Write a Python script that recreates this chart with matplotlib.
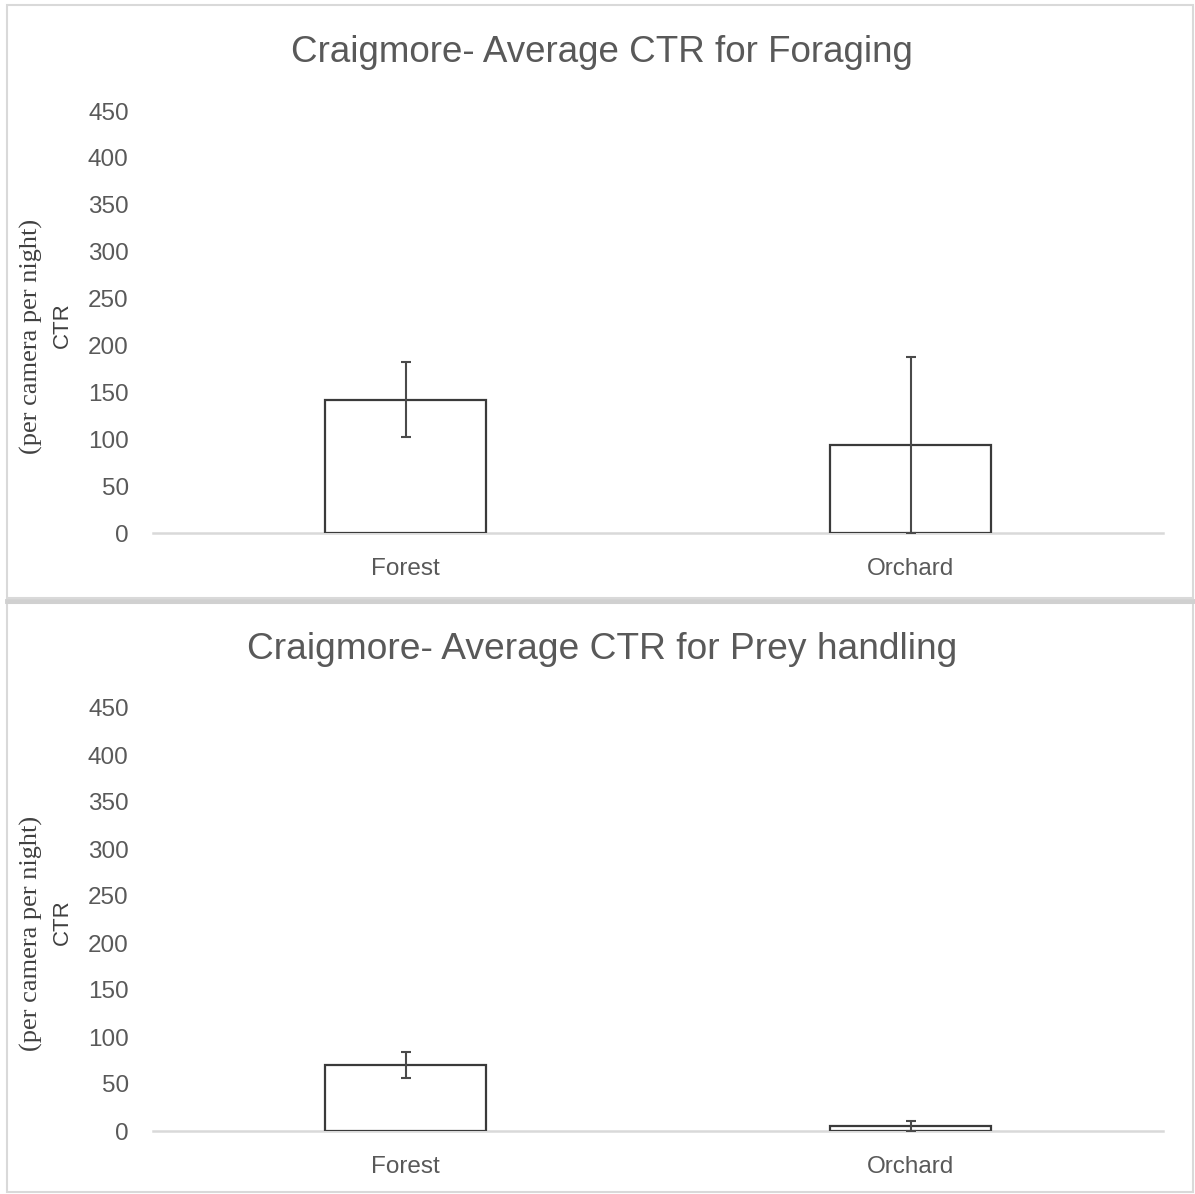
import matplotlib
matplotlib.use("Agg")
import matplotlib.pyplot as plt
from matplotlib.patches import Rectangle
from matplotlib.lines import Line2D

categories = ["Forest", "Orchard"]
foraging_values = [142, 94]
foraging_errors = [40, 94]
prey_values = [70, 5]
prey_errors = [14, 6]
titles = ["Craigmore- Average CTR for Foraging", "Craigmore- Average CTR for Prey handling"]
y_ticks = [0, 50, 100, 150, 200, 250, 300, 350, 400, 450]

W, H = 1195, 1194
fig = plt.figure(figsize=(W / 100, H / 100), dpi=100)
fig.patch.set_facecolor("white")

def fx(px):
    return px / W

def fy(py):
    return 1 - py / H

GRAY_TXT = "#595959"
BORDER = "#d9d9d9"

# panel borders
for (top, bot) in [(5, 598), (603, 1192)]:
    fig.patches.append(Rectangle((fx(7), fy(bot)), fx(1193) - fx(7), fy(top) - fy(bot),
                                 transform=fig.transFigure, fill=False,
                                 edgecolor=BORDER, linewidth=1.5))
fig.lines.append(Line2D([fx(7), fx(1193)], [fy(600.5), fy(600.5)], transform=fig.transFigure,
                        color="#d0d0d0", linewidth=3.5))

panels = [
    dict(vals=foraging_values, errs=foraging_errors, title=titles[0], ytop=111, ybot=533, ty=52,
         lbl_c=336, ctr_c=325, tsize=26.5),
    dict(vals=prey_values, errs=prey_errors, title=titles[1], ytop=708, ybot=1131, ty=650,
         lbl_c=933, ctr_c=922, tsize=26.7),
]

for p in panels:
    ax = fig.add_axes([fx(153), fy(p["ybot"]), fx(1163) - fx(153), (p["ybot"] - p["ytop"]) / H])
    x = list(range(len(categories)))
    ax.bar(x, p["vals"], width=0.317, color="white", edgecolor="#3a3a3a", linewidth=1.6, zorder=2)
    lower = [min(e, v) for v, e in zip(p["vals"], p["errs"])]
    ax.errorbar(x, p["vals"], yerr=[lower, p["errs"]], fmt="none", ecolor="#4a4a4a",
                elinewidth=1.5, capsize=3.6, capthick=1.5, zorder=3)
    ax.set_xlim(-0.5, 1.5)
    ax.set_ylim(0, 450)
    ax.set_yticks(y_ticks)
    ax.set_xticks(x)
    ax.set_xticklabels(categories)
    for s in ["top", "right", "left"]:
        ax.spines[s].set_visible(False)
    ax.spines["bottom"].set_color(BORDER)
    ax.spines["bottom"].set_linewidth(1.8)
    ax.spines["bottom"].set_zorder(1)
    ax.tick_params(axis="both", length=0, colors=GRAY_TXT, labelsize=17.5)
    ax.tick_params(axis="y", pad=17.5)
    ax.tick_params(axis="x", pad=18)
    for lab in ax.get_xticklabels() + ax.get_yticklabels():
        lab.set_family("Liberation Sans")
    ax.set_facecolor("none")
    fig.text(fx(602), fy(p["ty"]), p["title"], ha="center", va="center",
             fontsize=p["tsize"], color=GRAY_TXT, family="Liberation Sans")
    fig.text(fx(62), fy(p["ctr_c"]), "CTR", rotation=90, ha="center", va="center",
             fontsize=16, color="#404040", family="Liberation Sans")
    fig.text(fx(31), fy(p["lbl_c"]), "(per camera per night)", rotation=90, ha="center", va="center",
             fontsize=19, color="#404040", family="Liberation Serif")

fig.savefig("out.png", dpi=100, facecolor="white")
